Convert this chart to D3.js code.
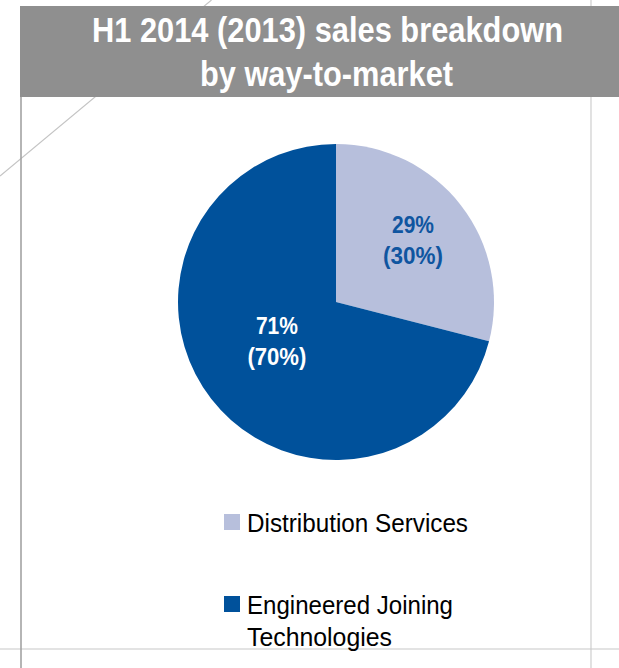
<!DOCTYPE html>
<html>
<head>
<meta charset="utf-8">
<script src="https://cdn.jsdelivr.net/npm/d3@7"></script>
<style>
  html, body { margin: 0; padding: 0; background: #fff; }
  svg { display: block; }
  text { font-family: "Liberation Sans", Arial, sans-serif; }
</style>
</head>
<body>
<svg id="chart" width="619" height="668"></svg>
<script>
// ---- data ----
const titleLines = ["H1 2014 (2013) sales breakdown", "by way-to-market"];
const categories = ["Distribution Services", "Engineered Joining Technologies"];
const legendLines = [["Distribution Services"], ["Engineered Joining", "Technologies"]];
const values2014 = [29, 71];
const values2013 = [30, 70];
const sliceColors = ["#b7bfdc", "#00519b"];
const labelColors = ["#0f55a0", "#ffffff"];

// ---- layout ----
const W = 619, H = 668;
const svg = d3.select("#chart");

// background guide lines
svg.append("line").attr("x1", 591).attr("y1", 0).attr("x2", 591).attr("y2", H)
  .attr("stroke", "#d2d2d2").attr("stroke-width", 1.3);
svg.append("line").attr("x1", 0).attr("y1", 649).attr("x2", W).attr("y2", 649)
  .attr("stroke", "#c8c8c8").attr("stroke-width", 1.2);
svg.append("line").attr("x1", 0).attr("y1", 176).attr("x2", 211.5).attr("y2", 0)
  .attr("stroke", "#c4c4c4").attr("stroke-width", 1.1);
svg.append("line").attr("x1", 21).attr("y1", 97).attr("x2", 21).attr("y2", H)
  .attr("stroke", "#a3a3a3").attr("stroke-width", 1.6);

// title banner
svg.append("rect").attr("x", 20).attr("y", 6).attr("width", W - 20).attr("height", 91)
  .attr("fill", "#8f8f8f");
const titleSpecs = [{ y: 42, len: 471 }, { y: 86, len: 253 }];
titleLines.forEach((t, i) => {
  svg.append("text")
    .attr("x", i === 0 ? 92 : 200).attr("y", titleSpecs[i].y)
    .attr("font-size", 35).attr("font-weight", "bold").attr("fill", "#ffffff")
    .attr("textLength", titleSpecs[i].len).attr("lengthAdjust", "spacingAndGlyphs")
    .text(t);
});

// pie
const cx = 336, cy = 302, R = 158;
const pie = d3.pie().sort(null).value(d => d.v).startAngle(0).endAngle(2 * Math.PI);
const data = categories.map((c, i) => ({ c, v: values2014[i], prev: values2013[i], i }));
const arcs = pie(data);
const arc = d3.arc().innerRadius(0).outerRadius(R);
const g = svg.append("g").attr("transform", `translate(${cx},${cy})`);
g.selectAll("path.slice").data(arcs).enter().append("path")
  .attr("class", "slice")
  .attr("d", arc)
  .attr("fill", (d, i) => sliceColors[i]);

// labels
const labelR = [100, 71];
const labelW = [[42, 60], [42, 59]];
arcs.forEach((d, i) => {
  const la = d3.arc().innerRadius(labelR[i]).outerRadius(labelR[i]);
  const [x, y] = la.centroid(d);
  const lines = [`${d.data.v}%`, `(${d.data.prev}%)`];
  lines.forEach((t, k) => {
    g.append("text")
      .attr("x", x - (i === 1 ? 3 : 2)).attr("y", y - (i === 1 ? 6 : 2) + (k === 0 ? -6 : 25.5))
      .attr("text-anchor", "middle")
      .attr("font-size", 24).attr("font-weight", "bold")
      .attr("fill", labelColors[i])
      .attr("textLength", labelW[i][k]).attr("lengthAdjust", "spacingAndGlyphs")
      .text(t);
  });
});

// legend
const legendY = [514, 596];
const legendLens = [[221], [206, 145]];
categories.forEach((c, i) => {
  svg.append("rect").attr("x", 224).attr("y", legendY[i]).attr("width", 16).attr("height", 16)
    .attr("fill", sliceColors[i]);
  legendLines[i].forEach((t, k) => {
    svg.append("text")
      .attr("x", 247).attr("y", legendY[i] + 17.5 + k * 32.5)
      .attr("font-size", 25).attr("fill", "#000000")
      .attr("textLength", legendLens[i][k]).attr("lengthAdjust", "spacingAndGlyphs")
      .text(t);
  });
});
</script>
</body>
</html>
